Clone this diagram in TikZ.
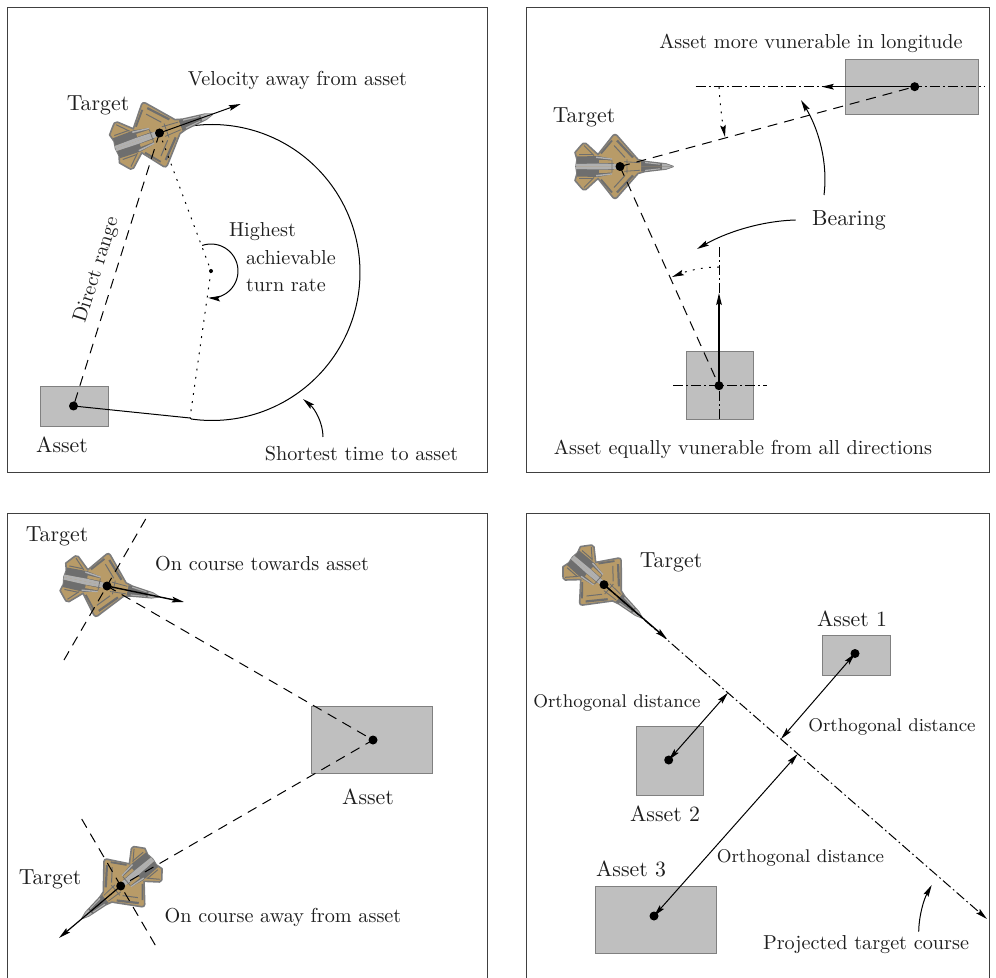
\documentclass[tikz,border=0pt]{standalone}
\usetikzlibrary{arrows.meta}
\definecolor{tan1}{HTML}{B89B68}
\definecolor{jetd}{HTML}{6E6E6E}
\definecolor{jete}{HTML}{7C7C7C}
\definecolor{jetl}{HTML}{B0B0B0}
\definecolor{boxf}{HTML}{BFBFBF}
\definecolor{boxe}{HTML}{808080}
\definecolor{inkc}{HTML}{1E1E1E}
\tikzset{
  x=0.5pt,y=-0.5pt,
  every node/.style={inner sep=0pt,outer sep=0pt,text=inkc,font=\fontsize{10.1}{12}\selectfont},
  big/.style={font=\fontsize{10.9}{13}\selectfont},
  small/.style={font=\fontsize{9.2}{11}\selectfont},
  frame/.style={draw=black!75,line width=0.45pt},
  asset/.style={fill=boxf,draw=boxe,line width=0.5pt},
  dot/.style={circle,fill=black,minimum size=4.5pt},
  tinydot/.style={circle,fill=black,minimum size=2pt},
  ln/.style={line width=0.5pt},
  tip/.style={-{Stealth[length=6pt,width=2.8pt,inset=1pt]}},
  both/.style={{Stealth[length=6pt,width=2.8pt,inset=1pt]}-{Stealth[length=6pt,width=2.8pt,inset=1pt]}},
  dsh/.style={ln,dash pattern=on 5pt off 3.5pt},
  dtd/.style={ln,dash pattern=on 0.9pt off 3.2pt},
  dd/.style={ln,dash pattern=on 5pt off 1.6pt on 0.8pt off 1.6pt},
}
\newcommand{\jethalf}{%
  % wing edge bands
  \draw[jetd,line width=1.1pt] (13,9) -- (-3,26);
  \draw[jetd,line width=0.9pt] (-19,13) -- (-8,26);
  \draw[jetd,line width=0.5pt] (5,9) -- (-6,21) (-36,21) -- (-26,11);
  \draw[jetd,line width=0.5pt] (-41,12) -- (-27,12);
  % fuselage and engines
  \fill[jetd] (-43,2.5) -- (-43,10) -- (-22,10.5) -- (-9,8) -- (-6,2.5) -- cycle;
  \fill[tan1] (-21,6.5) -- (-4,6) -- (-2,3.5) -- (-21,3.5) -- cycle;
  \fill[jetl] (-44,0) -- (-44,2.5) -- (-22,3) -- (-2,2.5) -- (-2,0) -- cycle;
  \fill[jetl] (-24,10) -- (-8,8) -- (-8,6.8) -- (-24,8.5) -- cycle;
  \fill[jetd] (53,0) -- (46,2.5) -- (25,5) -- (21,5) -- (21,0) -- cycle;
  \fill[jetl] (53,0) -- (46,2.5) -- (42,2.8) -- (42,0) -- cycle;
  \fill[jetl] (40,2.8) -- (25,4.6) -- (25,3.4) -- (40,1.8) -- cycle;
  \fill[tan1] (3,0) -- (3,3.6) -- (21,3.2) -- (21,0) -- cycle;
  \draw[jetd,line width=0.4pt] (20,3.8) -- (4,4.8) (7,0) -- (7,7) (-8,0) -- (-8,6);
}
\newcommand{\jet}[4]{%
  \begin{scope}[shift={(#1,#2)},rotate=#3,scale=#4]
    \draw[fill=tan1,draw=jete,line width=0.8pt,line join=round]
      (53,0) -- (46,2.5) -- (25,5) -- (18,7) -- (-3,31) -- (-5,32) -- (-7,31) -- (-22,12) -- (-34,23) -- (-37,23) -- (-39,21) -- (-45,14) -- (-43,7) -- (-44,0)
      -- (-43,-7) -- (-45,-14) -- (-39,-21) -- (-37,-23) -- (-34,-23) -- (-22,-12) -- (-7,-31) -- (-5,-32) -- (-3,-31) -- (18,-7) -- (25,-5) -- (46,-2.5) -- cycle;
    \jethalf
    \begin{scope}[yscale=-1]\jethalf\end{scope}
  \end{scope}}
\begin{document}
\begin{tikzpicture}
\useasboundingbox (0,0) rectangle (996,978);
% frames
\draw[frame] (7,7) rectangle (487,472);
\draw[frame] (526.5,7) rectangle (989,472);
\draw[frame] (7,978) -- (7,513) -- (487,513) -- (487,978);
\draw[frame] (526.5,978) -- (526.5,513) -- (989,513) -- (989,978);
%%% Panel A
\draw[asset] (40,387) rectangle (108,427);
\coordinate (aT) at (159.5,133);
\coordinate (aA) at (73.5,406);
\coordinate (aC) at (211,271);
\coordinate (aB) at (190,418);
\coordinate (aV) at (240.7,104);
\draw[ln] (aT) -- (186,126.7)
  plot[smooth,domain=-100:98,samples=60] ({212+148*cos(\x)},{272.5+148*sin(\x)})
  -- (aB) -- (aA);
\jet{159.5}{133}{19.5}{1.06}
\draw[dsh] (aT) -- (aA);
\draw[dtd] (aT) -- (aC) -- (aB);
\draw[ln,tip] (aT) -- (aV);
\draw[ln,tip] plot[smooth,domain=-109:96,samples=30] ({211+27*cos(\x)},{271+27*sin(\x)});
\node[dot] (aAd) at (aA) {};
\node[dot] (aTd) at (aT) {};
\node[tinydot] (aCd) at (aC) {};
\node[big] (aL1) at (98,105) {Target};
\node (aL2) at (297.5,80) {Velocity away from asset};
\node[rotate=72.4] (aL3) at (97,270) {Direct range};
\node[anchor=west] (aL4) at (229,232) {Highest};
\node[anchor=west] (aL5) at (246,258) {achievable};
\node[anchor=west] (aL6) at (246,285) {turn rate};
\node[big] (aL7) at (62,445) {Asset};
\node (aL8) at (361.5,454) {Shortest time to asset};
\coordinate (aS) at (323,437);
\coordinate (aE) at (303,399);
\draw[ln,tip] (aS) .. controls (323,423) and (315,409) .. (aE);
%%% Panel B
\draw[asset] (845.7,60) rectangle (978.7,115);
\draw[asset] (686.7,351.7) rectangle (753.5,420);
\jet{620}{166.5}{0}{1}
\coordinate (bT) at (620,166.5);
\coordinate (bA) at (914.7,86.7);
\coordinate (bB) at (719,385.7);
\draw[dsh] (bT) -- (bA);
\draw[dsh] (bT) -- (bB);
\draw[dd] (695.7,86.7) -- (985,86.7);
\draw[tip,line width=0.7pt] (bA) -- (821.7,86.7);
\draw[dtd,tip] (719,87) .. controls (720,104) and (722,120) .. (725,137);
\draw[dd] (673,385.7) -- (767,385.7);
\draw[dd] (719,247) -- (719,420);
\draw[tip,line width=0.7pt] (bB) -- (719,293);
\draw[dtd,tip] (719,267) .. controls (703,267) and (687,271) .. (672,277);
\node[dot] (bAd) at (bA) {};
\node[dot] (bTd) at (bT) {};
\node[dot] (bBd) at (bB) {};
\node[big] (bL1) at (584,117) {Target};
\node (bL2) at (811,43) {Asset more vunerable in longitude};
\node[big] (bL3) at (849,220) {Bearing};
\node (bL4) at (743,449) {Asset equally vunerable from all directions};
\draw[ln,tip] (795.7,220) .. controls (760,221) and (725,233) .. (697,249);
\draw[ln,tip] (824,195) .. controls (828,163) and (819,130) .. (801,100);
%%% Panel C
\draw[asset] (311.7,706) rectangle (432,773);
\jet{107}{586}{-11.7}{1}
\jet{120.7}{886}{220}{0.95}
\coordinate (cT) at (107,586);
\coordinate (cB) at (120.7,886);
\coordinate (cA) at (373,740);
\draw[dsh] (cT) -- (cA) -- (cB);
\draw[dsh] (145.7,519) -- (64,660);
\draw[dsh] (81.7,819) -- (158.7,951);
\draw[tip,line width=0.7pt] (cT) -- (184,602);
\draw[tip,line width=0.6pt] (cB) -- (59,938);
\node[dot] (cAd) at (cA) {};
\node[dot] (cTd) at (cT) {};
\node[dot] (cBd) at (cB) {};
\node[big] (cL1) at (57,536) {Target};
\node (cL2) at (262,564) {On course towards asset};
\node[big] (cL3) at (368,797) {Asset};
\node[big] (cL4) at (50,879) {Target};
\node (cL5) at (283,917) {On course away from asset};
%%% Panel D
\draw[asset] (822,635.7) rectangle (890,675);
\draw[asset] (636.7,726) rectangle (703.5,795);
\draw[asset] (595.7,886.7) rectangle (716,953);
\jet{604}{584.7}{-41}{0.95}
\coordinate (dT) at (604,584.7);
\coordinate (dE) at (987,919);
\coordinate (d1) at (855,653.5);
\coordinate (d1p) at (781,739);
\coordinate (d2) at (668.7,760);
\coordinate (d2p) at (728,692.7);
\coordinate (d3) at (654,916);
\coordinate (d3p) at (797.7,754);
\draw[dd,tip] (dT) -- (dE);
\draw[tip,line width=0.7pt] (dT) -- (667,639);
\draw[ln,both] (d1) -- (d1p);
\draw[ln,both] (d2) -- (d2p);
\draw[ln,both] (d3) -- (d3p);
\node[dot] (dTd) at (dT) {};
\node[dot] (d1d) at (d1) {};
\node[dot] (d2d) at (d2) {};
\node[dot] (d3d) at (d3) {};
\node[big] (dL0) at (671,562) {Target};
\node[big] (dL1) at (852,619) {Asset 1};
\node[big] (dL2) at (665,814) {Asset 2};
\node[big] (dL3) at (631,869) {Asset 3};
\node[small] (dL4) at (617,702.7) {Orthogonal distance};
\node[small] (dL5) at (892,726.7) {Orthogonal distance};
\node[small] (dL6) at (800.5,857.7) {Orthogonal distance};
\node (dL7) at (866,945) {Projected target course};
\draw[ln,tip] (918.7,931.7) .. controls (919,915) and (924,899) .. (931.7,885);
\end{tikzpicture}
\end{document}
